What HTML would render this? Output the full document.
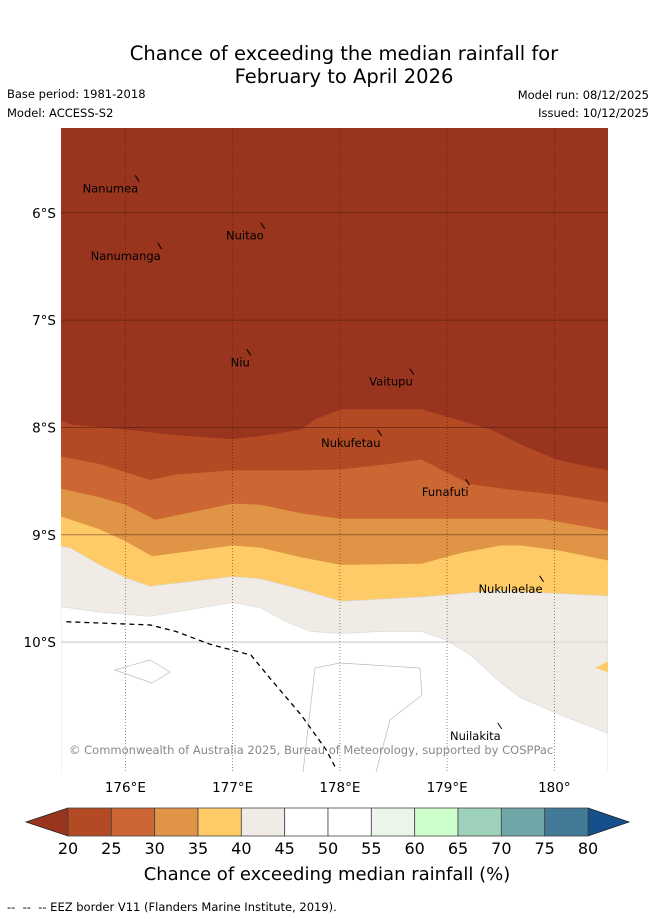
<!DOCTYPE html>
<html><head><meta charset="utf-8"><style>
html,body{margin:0;padding:0;background:#fff;}
svg{display:block;font-family:"DejaVu Sans","Liberation Sans",sans-serif;}
</style></head><body>
<svg id="chart" width="655" height="919" viewBox="0 0 655 919">
<text x="344" y="60" font-size="19.5" text-anchor="middle">Chance of exceeding the median rainfall for</text>
<text x="344" y="83" font-size="19.5" text-anchor="middle">February to April 2026</text>
<text x="7" y="98" font-size="11.5">Base period: 1981-2018</text>
<text x="7" y="117" font-size="11.5">Model: ACCESS-S2</text>
<text x="649" y="99" font-size="11.5" text-anchor="end">Model run: 08/12/2025</text>
<text x="649" y="117" font-size="11.5" text-anchor="end">Issued: 10/12/2025</text>
<defs><clipPath id="mapclip"><rect x="61" y="128" width="547" height="644"/></clipPath></defs>
<g id="map" clip-path="url(#mapclip)"></g>
<g id="axes"></g>
<g id="cbar"></g>
<text x="7" y="911" font-size="11.5">-- &#160;-- &#160;-- EEZ border V11 (Flanders Marine Institute, 2019).</text>
</svg>
<script>
// Map extent
const lonMin = 175.4, lonMax = 180.5, latMin = 5.21, latMax = 11.21; // south latitudes (positive)
const X0 = 61, X1 = 608, Y0 = 128, Y1 = 772;
function sx(lon){ return X0 + (lon - lonMin) / (lonMax - lonMin) * (X1 - X0); }
function sy(lat){ return Y0 + (lat - latMin) / (latMax - latMin) * (Y1 - Y0); }

// Contour boundaries (lon, lat south), top to bottom
const b1Lon = [175.40,175.48,176.00,176.47,177.00,177.26,177.64,177.78,178.01,178.76,179.41,179.69,180.02,180.25,180.50];
const b1Lat = [7.93,7.97,8.02,8.07,8.11,8.08,8.02,7.92,7.83,7.83,8.02,8.16,8.30,8.35,8.40];
const b2Lon = [175.40,175.76,176.23,176.47,177.00,177.64,178.01,178.38,178.76,179.22,179.60,180.06,180.50];
const b2Lat = [8.27,8.34,8.49,8.44,8.40,8.40,8.39,8.35,8.30,8.53,8.58,8.63,8.70];
const b3Lon = [175.40,175.76,176.00,176.28,177.00,177.26,177.64,178.01,178.76,179.88,180.50];
const b3Lat = [8.57,8.65,8.72,8.86,8.71,8.72,8.80,8.85,8.85,8.85,8.96];
const b4Lon = [175.40,175.76,176.00,176.25,177.00,177.26,177.64,178.01,178.76,179.13,179.50,179.69,180.06,180.50];
const b4Lat = [8.83,8.95,9.06,9.20,9.10,9.12,9.21,9.28,9.27,9.17,9.10,9.10,9.15,9.24];
const b5Lon = [175.40,175.48,175.76,176.00,176.23,177.00,177.26,177.64,178.01,178.76,179.22,179.50,179.88,180.50];
const b5Lat = [9.11,9.12,9.28,9.40,9.48,9.39,9.41,9.51,9.62,9.58,9.54,9.52,9.54,9.57];
const b6Lon = [175.40,175.76,176.23,177.00,177.26,177.50,177.73,178.01,178.38,178.76,178.99,179.22,179.50,179.69,180.06,180.50];
const b6Lat = [9.67,9.72,9.76,9.63,9.68,9.81,9.90,9.92,9.90,9.90,9.98,10.12,10.38,10.52,10.68,10.85];
const bandColors = ["#99351f","#b34a24","#cc6633","#e09445","#fecb66","#f0ebe5","#ffffff"];

// EEZ border
const eezLon = [175.45,176.23,176.47,176.79,177.17,177.36,177.64,177.87,177.96];
const eezLat = [9.81,9.84,9.90,10.02,10.12,10.35,10.68,11.00,11.17];

// Islands (marker positions)
const islandNames = ["Nanumea","Nuitao","Nanumanga","Niu","Vaitupu","Nukufetau","Funafuti","Nukulaelae","Nuilakita"];
const islandLon = [176.12,177.29,176.33,177.16,178.68,178.38,179.20,179.89,179.50];
const islandLat = [5.68,6.12,6.31,7.30,7.48,8.05,8.51,9.41,10.78];

// Colorbar
const cbTicks = ["20","25","30","35","40","45","50","55","60","65","70","75","80"];
const cbColors = ["#b34a24","#cc6633","#e09445","#fecb66","#f0ebe5","#ffffff","#ffffff","#ebf5ea","#ccffcc","#9dd1b9","#6fa6a8","#427a98"];
const lonTicks = [176,177,178,179,180];
const lonLabels = ["176°E","177°E","178°E","179°E","180°"];
const latTicks = [6,7,8,9,10];
const latLabels = ["6°S","7°S","8°S","9°S","10°S"];

const NS = "http://www.w3.org/2000/svg";
function mk(tag, attrs, parent){ const e = document.createElementNS(NS, tag); for (const k in attrs) e.setAttribute(k, attrs[k]); parent.appendChild(e); return e; }
const map = document.getElementById('map');
const axes = document.getElementById('axes');
const cbar = document.getElementById('cbar');

// Bands
const bounds = [[b1Lon,b1Lat],[b2Lon,b2Lat],[b3Lon,b3Lat],[b4Lon,b4Lat],[b5Lon,b5Lat],[b6Lon,b6Lat]];
const bg = mk('rect', {x:X0, y:Y0, width:X1-X0, height:Y1-Y0, fill:bandColors[0]}, map);


bounds.forEach((b, i) => {
  let d = 'M' + sx(b[0][0]) + ',' + sy(b[1][0]);
  for (let j = 1; j < b[0].length; j++) d += 'L' + sx(b[0][j]) + ',' + sy(b[1][j]);
  d += 'L' + X1 + ',' + (Y1 + 5) + 'L' + X0 + ',' + (Y1 + 5) + 'Z';
  const p = mk('path', {d:d, fill:bandColors[i+1], stroke: i>=4 ? '#d8d8d8' : 'none', 'stroke-width':0.6}, map);
  
  
});
const patch = mk('path', {d:'M'+sx(180.38)+','+sy(10.24)+'L'+X1+','+sy(10.18)+'L'+X1+','+sy(10.28)+'Z', fill:'#fecb66'}, map);



const o1 = mk('path', {d:'M115,670L150,660L170,672L152,683Z', fill:'none', stroke:'#bbb', 'stroke-width':0.7}, map);


const o2 = mk('path', {d:'M303,772L315,668L340,663L420,668L422,695L390,720L376,772', fill:'none', stroke:'#bbb', 'stroke-width':0.7}, map);



// Grid
latTicks.forEach((t, i) => {
  const y = sy(t);
  const l = mk('line', {x1:X0, x2:X1, y1:y, y2:y, stroke: t===10 ? '#e3e0dc' : 'rgba(60,20,10,0.45)', 'stroke-width': t===10 ? 2 : 1}, map);
  
  
  const tx = mk('text', {x:56, y:y+5, 'font-size':13.5, 'text-anchor':'end'}, axes);
  tx.textContent = latLabels[i];
  
  
});
lonTicks.forEach((t, i) => {
  const x = sx(t);
  const l = mk('line', {x1:x, x2:x, y1:Y0, y2:Y1, stroke:'rgba(40,20,10,0.6)', 'stroke-width':0.8, 'stroke-dasharray':'1,2'}, map);
  
  
  const tx = mk('text', {x:x, y:792, 'font-size':13.5, 'text-anchor':'middle'}, axes);
  tx.textContent = lonLabels[i];
  
  
});

// EEZ
let ed = '';
eezLon.forEach((lo, j) => { ed += (j ? 'L' : 'M') + sx(lo) + ',' + sy(eezLat[j]); });
const eez = mk('path', {d:ed, fill:'none', stroke:'#000', 'stroke-width':1.3, 'stroke-dasharray':'5,4'}, map);



// Islands
islandNames.forEach((n, i) => {
  const x = sx(islandLon[i]), y = sy(islandLat[i]);
  const m = mk('path', {d:'M'+(x-3)+','+(y-3)+'L'+(x+1)+','+(y+3), stroke:'#000', 'stroke-width':1, fill:'none'}, map);
  
  
  const tx = mk('text', {x:x, y:y+14, 'font-size':11.5, 'text-anchor':'end', fill:'#000'}, map);
  tx.textContent = n;
  
  
});

const cr = mk('text', {x:69, y:754, 'font-size':11.5, fill:'#888'}, map);
cr.textContent = '© Commonwealth of Australia 2025, Bureau of Meteorology, supported by COSPPac';



// Colorbar
const CB0 = 68, CB1 = 588, CBY = 808, CBH = 28;
const segW = (CB1 - CB0) / cbColors.length;
const le = mk('path', {d:'M'+CB0+','+CBY+'L26,'+(CBY+CBH/2)+'L'+CB0+','+(CBY+CBH)+'Z', fill:'#99351f', stroke:'#222', 'stroke-width':0.8}, cbar);


const re = mk('path', {d:'M'+CB1+','+CBY+'L629,'+(CBY+CBH/2)+'L'+CB1+','+(CBY+CBH)+'Z', fill:'#15508c', stroke:'#222', 'stroke-width':0.8}, cbar);


cbColors.forEach((c, i) => {
  const r = mk('rect', {x:CB0 + i*segW, y:CBY, width:segW, height:CBH, fill:c, stroke:'#444', 'stroke-width':0.8}, cbar);
  
  
});
cbTicks.forEach((t, i) => {
  const tx = mk('text', {x:CB0 + i*segW, y:854, 'font-size':16, 'text-anchor':'middle'}, cbar);
  tx.textContent = t;
  
  
});
const ct = mk('text', {x:327, y:880, 'font-size':18, 'text-anchor':'middle'}, cbar);
ct.textContent = 'Chance of exceeding median rainfall (%)';


</script>
</body></html>
